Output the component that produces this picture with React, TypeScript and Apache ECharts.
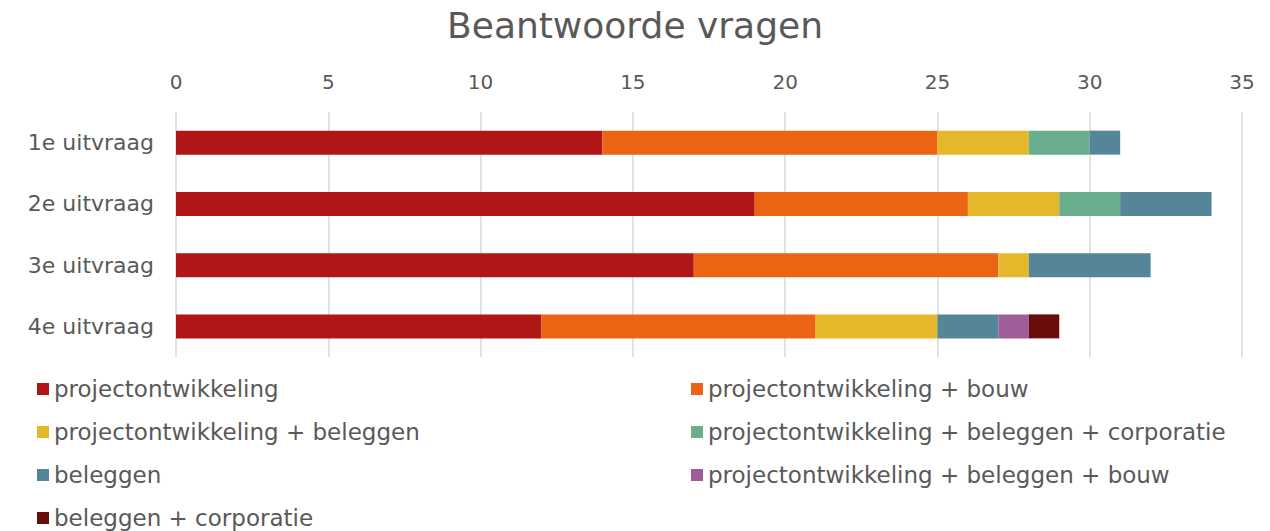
import React, { useEffect, useRef } from "react";
import * as echarts from "echarts";

const categories = ["1e uitvraag", "2e uitvraag", "3e uitvraag", "4e uitvraag"];
const seriesNames = [
  "projectontwikkeling",
  "projectontwikkeling + bouw",
  "projectontwikkeling + beleggen",
  "projectontwikkeling + beleggen + corporatie",
  "beleggen",
  "projectontwikkeling + beleggen + bouw",
  "beleggen + corporatie",
];
const projectontwikkeling = [14, 19, 17, 12];
const poBouw = [11, 7, 10, 9];
const poBeleggen = [3, 3, 1, 4];
const poBeleggenCorporatie = [2, 2, 0, 0];
const beleggen = [1, 3, 4, 2];
const poBeleggenBouw = [0, 0, 0, 1];
const beleggenCorporatie = [0, 0, 0, 1];
const seriesValues = [
  projectontwikkeling,
  poBouw,
  poBeleggen,
  poBeleggenCorporatie,
  beleggen,
  poBeleggenBouw,
  beleggenCorporatie,
];
const colors = ["#B01615", "#EB6414", "#E5B72A", "#6AAD8F", "#558599", "#9D5E9A", "#6B0C0C"];
const xTicks = { min: 0, max: 35, interval: 5 };

const FONT = "'DejaVu Sans', sans-serif";
const TXT = "#595959";

export default function App() {
  const ref = useRef<HTMLDivElement>(null);
  useEffect(() => {
    document.body.style.margin = "0";
    const chart = echarts.init(ref.current!, null, { renderer: "svg" });
    const legendCenters = [389, 389, 432, 432, 475, 475, 518];
    const legends = seriesNames.map((name, i) => ({
      data: [name],
      left: i % 2 === 0 ? 37 : 691,
      top: legendCenters[i] - 12,
      padding: 0,
      itemWidth: 12,
      itemHeight: 12,
      icon: "rect",
      selectedMode: false,
      textStyle: { fontFamily: FONT, fontSize: 23, color: TXT, lineHeight: 24 },
    }));
    chart.setOption({
      animation: false,
      color: colors,
      title: {
        text: "Beantwoorde vragen",
        left: "center",
        top: 2,
        textStyle: { fontFamily: FONT, fontSize: 36, fontWeight: "normal", color: TXT },
      },
      grid: { left: 176, right: 28, top: 112, bottom: 174 },
      xAxis: {
        type: "value",
        position: "top",
        min: xTicks.min,
        max: xTicks.max,
        interval: xTicks.interval,
        axisLine: { show: false },
        axisTick: { show: false },
        splitLine: { lineStyle: { color: "#d9d9d9", width: 1.5 } },
        axisLabel: { fontFamily: FONT, fontSize: 20, color: TXT, margin: 20 },
      },
      yAxis: {
        type: "category",
        data: categories,
        inverse: true,
        axisLine: { show: false },
        axisTick: { show: false },
        axisLabel: { fontFamily: FONT, fontSize: 22, color: TXT, margin: 22 },
      },
      legend: legends,
      series: seriesNames.map((name, i) => ({
        name,
        type: "bar",
        stack: "total",
        barWidth: 24,
        data: seriesValues[i],
        itemStyle: { color: colors[i] },
      })),
    });
    return () => chart.dispose();
  }, []);
  return <div ref={ref} style={{ width: 1270, height: 531 }} />;
}
